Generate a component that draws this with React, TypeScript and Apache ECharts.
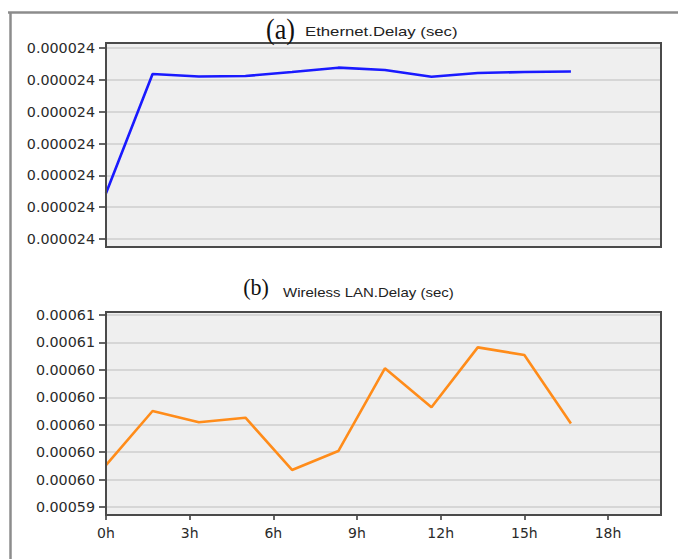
import React, { useEffect, useRef } from "react";
import * as echarts from "echarts";

// time of each sample, in hours (one sample every 100 minutes)
const HOURS = [0, 1.67, 3.33, 5, 6.67, 8.33, 10, 11.67, 13.33, 15, 16.67];

// (a) Ethernet.Delay (sec)
const ETHERNET_DELAY = [
  0.0000239996872, 0.0000240004368, 0.000024000421, 0.0000240004242,
  0.0000240004494, 0.0000240004764, 0.0000240004618, 0.0000240004198,
  0.000024000443, 0.0000240004494, 0.0000240004524,
];

// (b) Wireless LAN.Delay (sec)
const WLAN_DELAY = [
  0.00059706, 0.000601, 0.00060018, 0.00060051, 0.0005967, 0.00059808,
  0.00060411, 0.00060127, 0.00060564, 0.00060508, 0.00060009,
];

const ETH_TICKS = [
  0.0000239994, 0.0000239996, 0.0000239998, 0.000024, 0.0000240002,
  0.0000240004, 0.0000240006,
];
const WLAN_TICKS = [
  0.000594, 0.000596, 0.000598, 0.0006, 0.000602, 0.000604, 0.000606, 0.000608,
];
const HOUR_TICKS = [0, 3, 6, 9, 12, 15, 18];
const HOUR_MAX = 19.9;

const LABEL_FONT = "DejaVu Sans";

export default function App() {
  const ref = useRef<HTMLDivElement>(null);

  useEffect(() => {
    const chart = echarts.init(ref.current!, null, { renderer: "svg" });

    const yAxisBase = (ticks: number[], digits: number, gridIndex: number) => ({
      type: "value",
      gridIndex,
      min: ticks[0],
      max: ticks[ticks.length - 1],
      axisLine: { show: false },
      axisTick: {
        show: true,
        length: 7,
        customValues: ticks,
        lineStyle: { color: "#333", width: 1.5 },
      },
      axisLabel: {
        customValues: ticks,
        formatter: (v: number) => v.toFixed(digits),
        margin: 11,
        color: "#2a2a2a",
        fontFamily: LABEL_FONT,
        fontSize: 14.3,
      },
      splitLine: { show: true, lineStyle: { color: "#d6d6d6", width: 2 } },
    });

    chart.setOption({
      animation: false,
      backgroundColor: "#ffffff",
      grid: [
        { left: 106, right: 17, top: 48, height: 191 },
        { left: 106, right: 17, top: 315, height: 192 },
      ],
      xAxis: [
        { type: "value", gridIndex: 0, min: 0, max: HOUR_MAX, show: false },
        {
          type: "value",
          gridIndex: 1,
          min: 0,
          max: HOUR_MAX,
          offset: 8,
          axisLine: { show: false },
          axisTick: {
            show: true,
            length: 5,
            customValues: HOUR_TICKS,
            lineStyle: { color: "#333", width: 1.5 },
          },
          axisLabel: {
            customValues: HOUR_TICKS,
            formatter: (v: number) => `${v}h`,
            margin: 11,
            color: "#2a2a2a",
            fontFamily: LABEL_FONT,
            fontSize: 14,
          },
          splitLine: { show: false },
        },
      ],
      yAxis: [yAxisBase(ETH_TICKS, 6, 0), yAxisBase(WLAN_TICKS, 5, 1)],
      series: [
        {
          type: "line",
          xAxisIndex: 0,
          yAxisIndex: 0,
          data: HOURS.map((h, i) => [h, ETHERNET_DELAY[i]]),
          showSymbol: false,
          lineStyle: { color: "#1a1aff", width: 2.6 },
          z: 5,
        },
        {
          type: "line",
          xAxisIndex: 1,
          yAxisIndex: 1,
          data: HOURS.map((h, i) => [h, WLAN_DELAY[i]]),
          showSymbol: false,
          lineStyle: { color: "#ff8c1a", width: 2.6 },
          z: 5,
        },
      ],
      graphic: [
        // outer frame
        {
          type: "line",
          z: 1,
          shape: { x1: 8, y1: 12.5, x2: 678, y2: 12.5 },
          style: { stroke: "#8c8c8c", lineWidth: 2.5 },
        },
        {
          type: "line",
          z: 1,
          shape: { x1: 10.5, y1: 12, x2: 10.5, y2: 559 },
          style: { stroke: "#8c8c8c", lineWidth: 2.5 },
        },
        // plot backgrounds
        {
          type: "rect",
          z: -10,
          shape: { x: 106, y: 43, width: 555, height: 204 },
          style: { fill: "#efefef" },
        },
        {
          type: "rect",
          z: -10,
          shape: { x: 106, y: 312, width: 555, height: 203 },
          style: { fill: "#efefef" },
        },
        // plot borders
        {
          type: "rect",
          z: 100,
          shape: { x: 106, y: 43, width: 555, height: 204 },
          style: { fill: "none", stroke: "#4a4a4a", lineWidth: 2 },
        },
        {
          type: "rect",
          z: 100,
          shape: { x: 106, y: 312, width: 555, height: 203 },
          style: { fill: "none", stroke: "#4a4a4a", lineWidth: 2 },
        },
        // titles
        {
          type: "text",
          z: 100,
          x: 280.5,
          y: 29,
          scaleX: 0.9,
          style: {
            text: "(a)",
            font: '29px "Liberation Serif"',
            fill: "#111",
            textAlign: "center",
            textVerticalAlign: "middle",
            align: "center",
            verticalAlign: "middle",
          },
        },
        {
          type: "text",
          z: 100,
          x: 305,
          y: 32,
          scaleX: 1.34,
          style: {
            text: "Ethernet.Delay (sec)",
            font: '12.5px "Liberation Sans"',
            fill: "#222",
            textAlign: "left",
            textVerticalAlign: "middle",
            align: "left",
            verticalAlign: "middle",
          },
        },
        {
          type: "text",
          z: 100,
          x: 256,
          y: 286.5,
          scaleX: 0.92,
          style: {
            text: "(b)",
            font: '24px "Liberation Serif"',
            fill: "#111",
            textAlign: "center",
            textVerticalAlign: "middle",
            align: "center",
            verticalAlign: "middle",
          },
        },
        {
          type: "text",
          z: 100,
          x: 283,
          y: 292.5,
          scaleX: 1.2,
          style: {
            text: "Wireless LAN.Delay (sec)",
            font: '12.5px "Liberation Sans"',
            fill: "#222",
            textAlign: "left",
            textVerticalAlign: "middle",
            align: "left",
            verticalAlign: "middle",
          },
        },
      ],
    });

    return () => chart.dispose();
  }, []);

  return (
    <div
      ref={ref}
      style={{
        position: "fixed",
        left: 0,
        top: 0,
        width: 678,
        height: 559,
        background: "#fff",
      }}
    />
  );
}
